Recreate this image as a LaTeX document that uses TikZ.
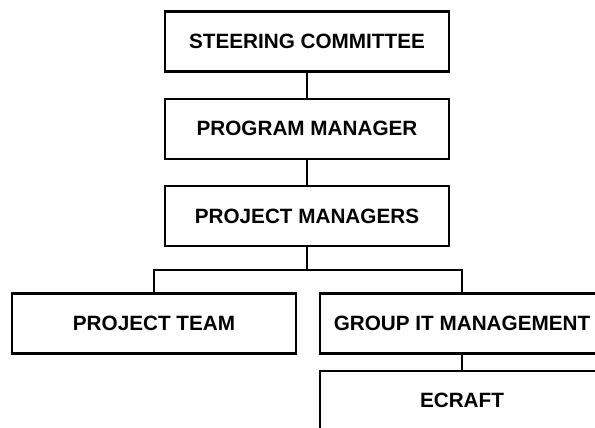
\documentclass[tikz,border=0pt]{standalone}
\usepackage{fontspec}
\setmainfont{Liberation Sans}
\usetikzlibrary{positioning}

\begin{document}
\begin{tikzpicture}[x=1pt,y=-1pt,node distance=25pt,line width=2.2pt,
    every node/.append style={align=center,font=\bfseries\fontsize{20.7}{22}\selectfont},
    box/.style={draw, minimum width=284pt, minimum height=60pt, inner sep=0pt}]
        \clip (0,0) rectangle (595,428);
        \node [box] (steer) at (307,41.5) {STEERING COMMITTEE};
        \node [box, below=of steer] (prog) {PROGRAM MANAGER};
        \node [box, below=of prog] (projm) {PROJECT MANAGERS};
        \node [box] (team) at (154,323.5) {PROJECT TEAM};
        \node [box] (group) at (462,323.5) {GROUP IT MANAGEMENT};
        \node [box, below=15pt of group] (ecraft) {ECRAFT};
        \coordinate (fork) at (307,270);
        \draw (steer) -- (prog);
        \draw (prog) -- (projm);
        \draw (projm) -- (fork) -| (team);
        \draw (fork) -| (group);
        \draw (group) -- (ecraft);
    \end{tikzpicture}
\end{document}
